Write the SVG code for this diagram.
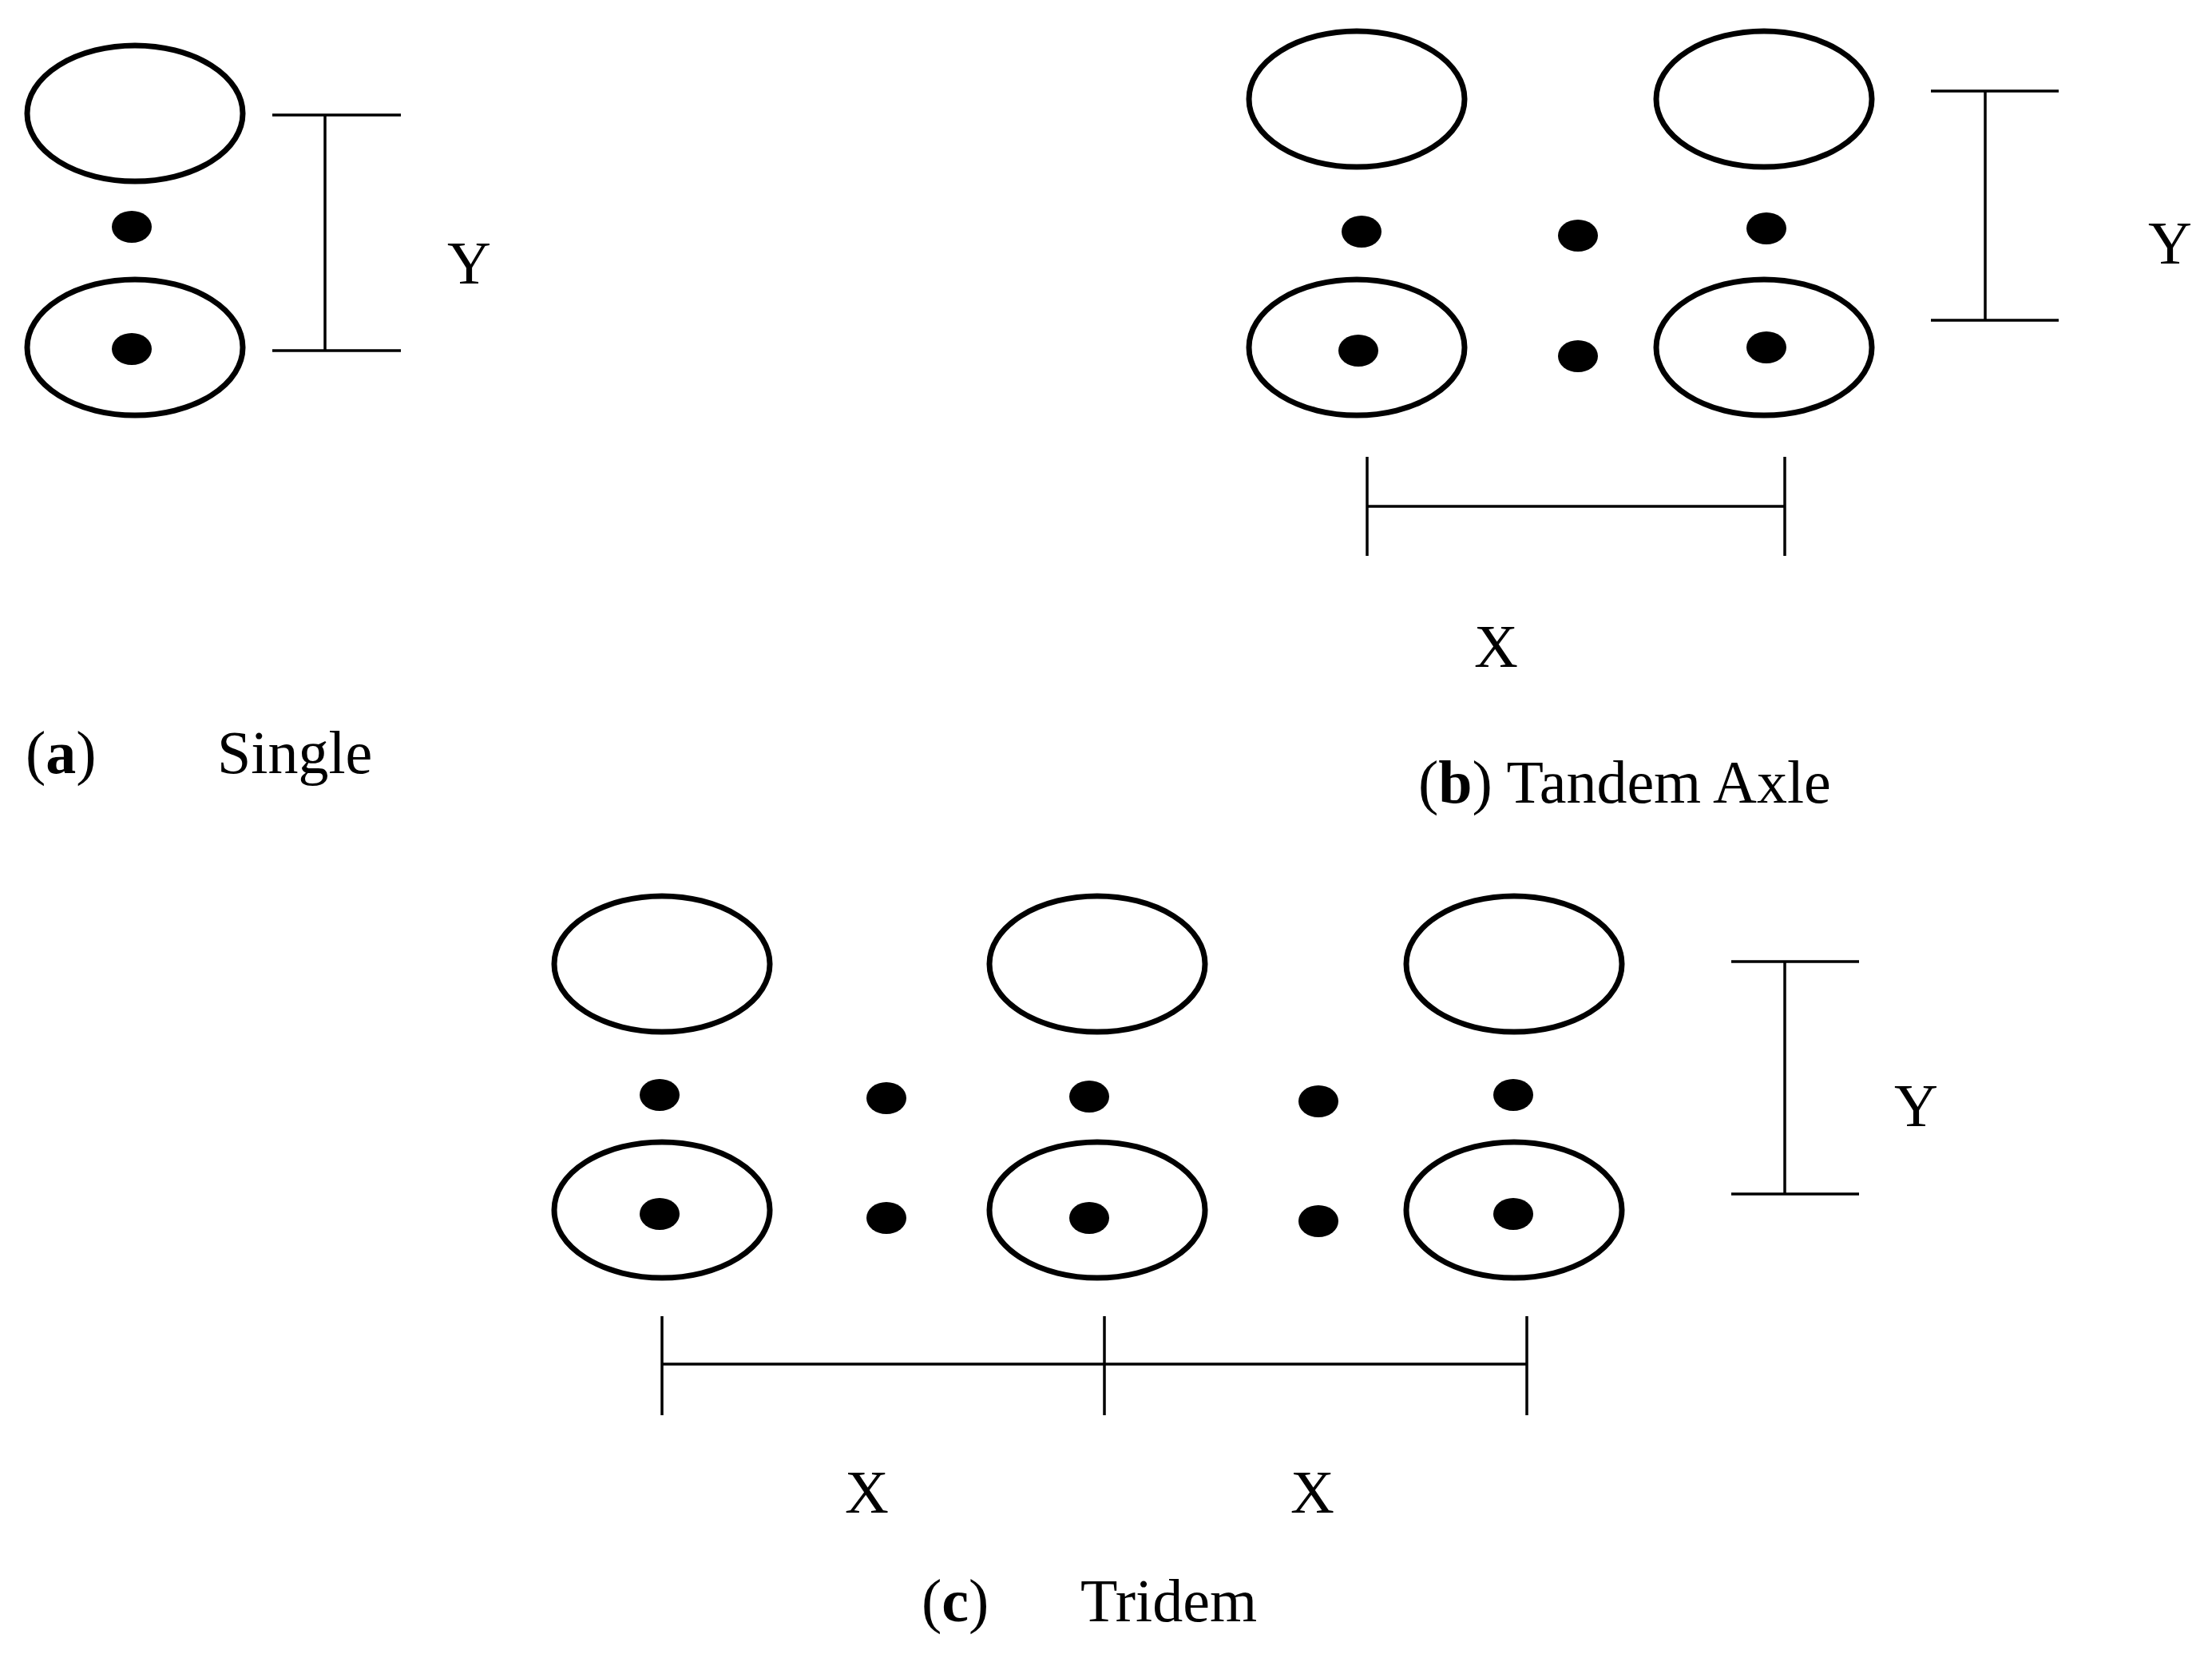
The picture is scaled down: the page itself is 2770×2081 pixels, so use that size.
<svg xmlns="http://www.w3.org/2000/svg" width="2770" height="2081" viewBox="0 0 2770 2081">
<style>
.t{fill:none;stroke:#000;stroke-width:7}
.d{fill:#000}
.l{stroke:#000;stroke-width:3.5;fill:none}
text{font-family:"Liberation Serif",serif;font-size:76px;fill:#000}
</style>
<rect width="2770" height="2081" fill="#fff"/>
<g id="single">
<ellipse class="t" cx="169" cy="142" rx="135" ry="85"/>
<ellipse class="t" cx="169" cy="435" rx="135" ry="85"/>
<ellipse class="d" cx="165" cy="284" rx="25" ry="20"/>
<ellipse class="d" cx="165" cy="437" rx="25" ry="20"/>
</g>
<g id="tandem">
<ellipse class="t" cx="1699" cy="124" rx="135" ry="85"/>
<ellipse class="t" cx="2209" cy="124" rx="135" ry="85"/>
<ellipse class="t" cx="1699" cy="435" rx="135" ry="85"/>
<ellipse class="t" cx="2209" cy="435" rx="135" ry="85"/>
<ellipse class="d" cx="1705" cy="290" rx="25" ry="20"/>
<ellipse class="d" cx="1976" cy="295" rx="25" ry="20"/>
<ellipse class="d" cx="2212" cy="286" rx="25" ry="20"/>
<ellipse class="d" cx="1701" cy="439" rx="25" ry="20"/>
<ellipse class="d" cx="1976" cy="446" rx="25" ry="20"/>
<ellipse class="d" cx="2212" cy="435" rx="25" ry="20"/>
</g>
<g id="tridem">
<ellipse class="t" cx="829" cy="1207" rx="135" ry="85"/>
<ellipse class="t" cx="1374" cy="1207" rx="135" ry="85"/>
<ellipse class="t" cx="1896" cy="1207" rx="135" ry="85"/>
<ellipse class="t" cx="829" cy="1515" rx="135" ry="85"/>
<ellipse class="t" cx="1374" cy="1515" rx="135" ry="85"/>
<ellipse class="t" cx="1896" cy="1515" rx="135" ry="85"/>
<ellipse class="d" cx="826" cy="1371" rx="25" ry="20"/>
<ellipse class="d" cx="1110" cy="1375" rx="25" ry="20"/>
<ellipse class="d" cx="1364" cy="1373" rx="25" ry="20"/>
<ellipse class="d" cx="1651" cy="1379" rx="25" ry="20"/>
<ellipse class="d" cx="1895" cy="1371" rx="25" ry="20"/>
<ellipse class="d" cx="826" cy="1520" rx="25" ry="20"/>
<ellipse class="d" cx="1110" cy="1525" rx="25" ry="20"/>
<ellipse class="d" cx="1364" cy="1525" rx="25" ry="20"/>
<ellipse class="d" cx="1651" cy="1529" rx="25" ry="20"/>
<ellipse class="d" cx="1895" cy="1520" rx="25" ry="20"/>
</g>
<g id="connectors">
<path class="l" d="M341 144H502M341 439H502M407 144V439"/>
<path class="l" d="M2418 114H2578M2418 401H2578M2486 114V401"/>
<path class="l" d="M1712 634H2235M1712 572V696M2235 572V696"/>
<path class="l" d="M2168 1204H2328M2168 1495H2328M2235 1204V1495"/>
<path class="l" d="M829 1708H1912M829 1648V1772M1383 1648V1772M1912 1648V1772"/>
</g>
<g id="labels">
<text x="560" y="355">Y</text>
<text x="2690" y="330">Y</text>
<text x="1846" y="835">X</text>
<text x="2372" y="1410">Y</text>
<text x="1058" y="1894">X</text>
<text x="1616" y="1894">X</text>
<text x="32" y="968">(<tspan font-weight="bold">a</tspan>)</text>
<text x="272" y="968">Single</text>
<text x="1776" y="1005">(<tspan font-weight="bold">b</tspan>) Tandem Axle</text>
<text x="1154" y="2030">(<tspan font-weight="bold">c</tspan>)</text>
<text x="1353" y="2030">Tridem</text>
</g>
</svg>
